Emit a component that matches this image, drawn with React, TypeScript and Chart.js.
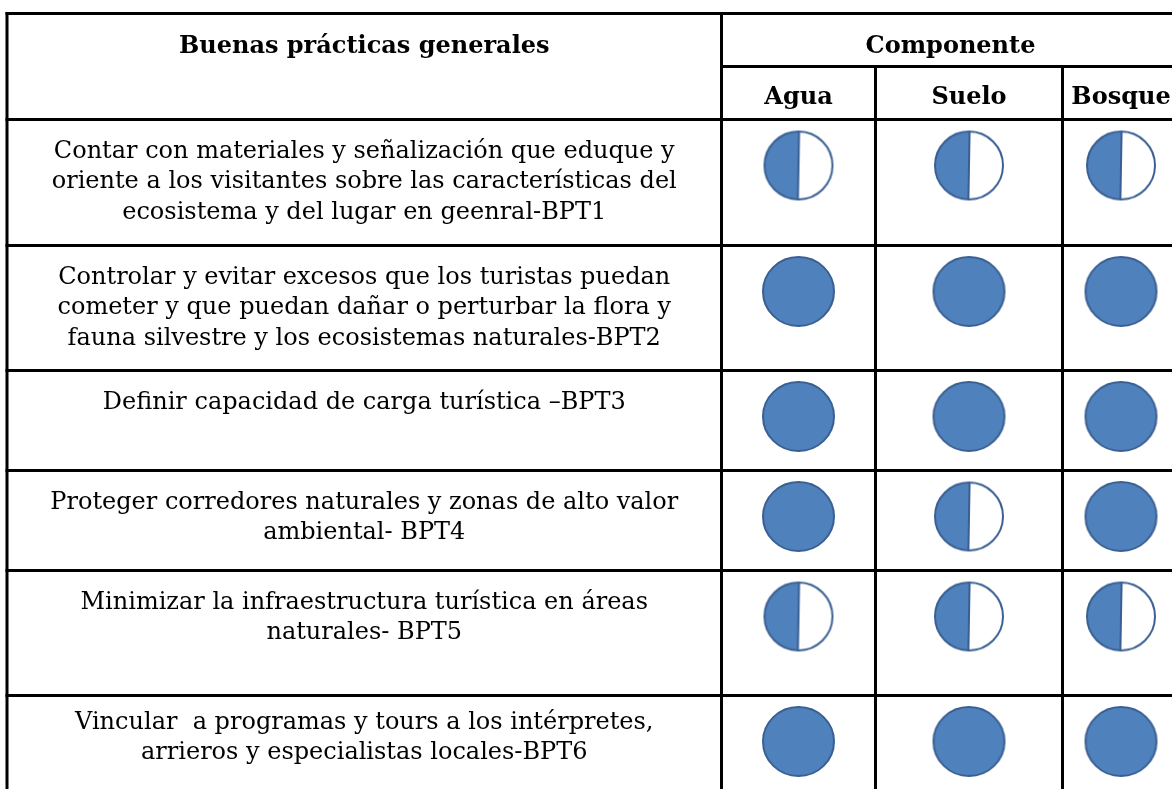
import React, { useEffect, useRef } from "react";
import { Chart, registerables } from "chart.js";

Chart.register(...registerables);

// ---------- data ----------
const practiceHeader = "Buenas prácticas generales";
const componentHeader = "Componente";
const components = ["Agua", "Suelo", "Bosque"];

const practices: string[][] = [
  [
    "Contar con materiales y señalización que eduque y",
    "oriente a los visitantes sobre las características del",
    "ecosistema y del lugar en geenral-BPT1",
  ],
  [
    "Controlar y evitar excesos que los turistas puedan",
    "cometer y que puedan dañar o perturbar la flora y",
    "fauna silvestre y los ecosistemas naturales-BPT2",
  ],
  ["Definir capacidad de carga turística –BPT3"],
  ["Proteger corredores naturales y zonas de alto valor", "ambiental- BPT4"],
  ["Minimizar la infraestructura turística en áreas", "naturales- BPT5"],
  ["Vincular  a programas y tours a los intérpretes,", "arrieros y especialistas locales-BPT6"],
];

// 1 = full ball, 0.5 = half ball
const aguaScores = [0.5, 1, 1, 1, 0.5, 1];
const sueloScores = [0.5, 1, 1, 0.5, 0.5, 1];
const bosqueScores = [0.5, 1, 1, 1, 0.5, 1];
const scoresByComponent = [aguaScores, sueloScores, bosqueScores];

// ---------- layout / style ----------
const CANVAS_W = 1172;
const CANVAS_H = 789;
const colEdges = [7, 721.5, 875.5, 1062.5, 1179.5];
const headerTop = 13.5;
const subHeaderLine = 66.5;
const rowEdges = [119.5, 245.5, 370.5, 470.5, 570.5, 695.5, 821];
const rowTextShift = [0, 0, 0, 0, 0, -5.5];
const BALL_OFFSET = 46;
const TEXT_FIRST_BASELINE = 38.5;
const LINE_GAP = 30.3;
const FONT = '"DejaVu Serif", serif';
const BLUE = "#4F81BD";
const EDGE = "#3A5F92";
const GRID_W = 3;

function makeBall(fraction: number, w: number, h: number, lw: number) {
  const pad = 2;
  const c = document.createElement("canvas");
  c.width = w + pad * 2;
  c.height = h + pad * 2;
  const g = c.getContext("2d")!;
  const cx = c.width / 2;
  const cy = c.height / 2;
  const rx = w / 2 - lw / 2;
  const ry = h / 2 - lw / 2;
  g.beginPath();
  g.ellipse(cx, cy, rx, ry, 0, 0, Math.PI * 2);
  g.fillStyle = fraction >= 1 ? BLUE : "#ffffff";
  g.fill();
  if (fraction > 0 && fraction < 1) {
    g.beginPath();
    g.moveTo(cx, cy);
    g.ellipse(cx, cy, rx, ry, 0, -Math.PI / 2, -Math.PI / 2 - fraction * Math.PI * 2, true);
    g.closePath();
    g.fillStyle = BLUE;
    g.fill();
    g.beginPath();
    g.moveTo(cx + 0.6, cy - ry);
    g.lineTo(cx - 0.6, cy + ry);
    g.strokeStyle = EDGE;
    g.lineWidth = lw;
    g.stroke();
  }
  g.beginPath();
  g.ellipse(cx, cy, rx, ry, 0, 0, Math.PI * 2);
  g.strokeStyle = EDGE;
  g.lineWidth = lw;
  g.stroke();
  return c;
}

const tablePlugin = {
  id: "harveyTable",
  beforeDatasetsDraw(chart: any) {
    const { ctx } = chart;
    const xs = chart.scales.x;
    const ys = chart.scales.y;
    const px = (v: number) => xs.getPixelForValue(v);
    const py = (v: number) => ys.getPixelForValue(v);
    ctx.save();
    ctx.strokeStyle = "#000";
    ctx.lineWidth = GRID_W;
    ctx.lineCap = "butt";
    const hline = (yv: number, x0: number, x1: number) => {
      ctx.beginPath();
      ctx.moveTo(px(x0), py(yv));
      ctx.lineTo(px(x1), py(yv));
      ctx.stroke();
    };
    const vline = (xv: number, y0: number, y1: number) => {
      ctx.beginPath();
      ctx.moveTo(px(xv), py(y0));
      ctx.lineTo(px(xv), py(y1));
      ctx.stroke();
    };
    const left = colEdges[0] - GRID_W / 2;
    const right = colEdges[colEdges.length - 1] + GRID_W;
    const bottom = rowEdges[rowEdges.length - 1];
    hline(headerTop, left, right);
    hline(subHeaderLine, colEdges[1] - GRID_W / 2, right);
    rowEdges.forEach((r) => hline(r, left, right));
    vline(colEdges[0], headerTop - GRID_W / 2, bottom);
    vline(colEdges[1], headerTop - GRID_W / 2, bottom);
    vline(colEdges[2], subHeaderLine - GRID_W / 2, bottom);
    vline(colEdges[3], subHeaderLine - GRID_W / 2, bottom);
    vline(colEdges[4], subHeaderLine - GRID_W / 2, bottom);

    ctx.fillStyle = "#000";
    ctx.textAlign = "center";
    ctx.textBaseline = "alphabetic";
    ctx.font = `bold 24px ${FONT}`;
    const textCol = (colEdges[0] + colEdges[1]) / 2;
    ctx.fillText(practiceHeader, px(textCol), py(headerTop + 39));
    ctx.fillText(componentHeader, px((colEdges[1] + colEdges[4]) / 2), py(headerTop + 39.5));
    components.forEach((name, k) => {
      ctx.fillText(name, px((colEdges[k + 1] + colEdges[k + 2]) / 2), py(subHeaderLine + 37.5));
    });
    ctx.font = `24px ${FONT}`;
    practices.forEach((lines, i) => {
      lines.forEach((line, j) => {
        ctx.fillText(
          line,
          px(textCol),
          py(rowEdges[i] + TEXT_FIRST_BASELINE + rowTextShift[i] + j * LINE_GAP)
        );
      });
    });
    ctx.restore();
  },
};

export default function App() {
  const ref = useRef<HTMLCanvasElement | null>(null);
  useEffect(() => {
    if (!ref.current) return;
    const full = makeBall(1, 73, 71, 2);
    const half = makeBall(0.5, 70, 70, 2);
    const chart = new Chart(ref.current, {
      type: "scatter",
      data: {
        datasets: components.map((name, k) => {
          const scores = scoresByComponent[k];
          const cx = (colEdges[k + 1] + colEdges[k + 2]) / 2;
          return {
            label: name,
            data: scores.map((v, i) => ({ x: cx, y: rowEdges[i] + BALL_OFFSET, score: v })),
            pointStyle: scores.map((v) => (v >= 1 ? full : half)),
            pointRadius: 35,
            pointHoverRadius: 35,
            backgroundColor: BLUE,
            borderColor: EDGE,
          } as any;
        }),
      },
      options: {
        responsive: false,
        animation: false,
        events: [],
        layout: { padding: 0, autoPadding: false },
        scales: {
          x: { type: "linear", min: 0, max: CANVAS_W, display: false },
          y: { type: "linear", min: 0, max: CANVAS_H, reverse: true, display: false },
        },
        plugins: { legend: { display: false }, tooltip: { enabled: false }, title: { display: false } },
      },
      plugins: [tablePlugin],
    });
    return () => chart.destroy();
  }, []);
  return (
    <div style={{ position: "fixed", left: 0, top: 0, width: CANVAS_W, height: CANVAS_H, background: "#fff" }}>
      <canvas ref={ref} width={CANVAS_W} height={CANVAS_H} />
    </div>
  );
}
